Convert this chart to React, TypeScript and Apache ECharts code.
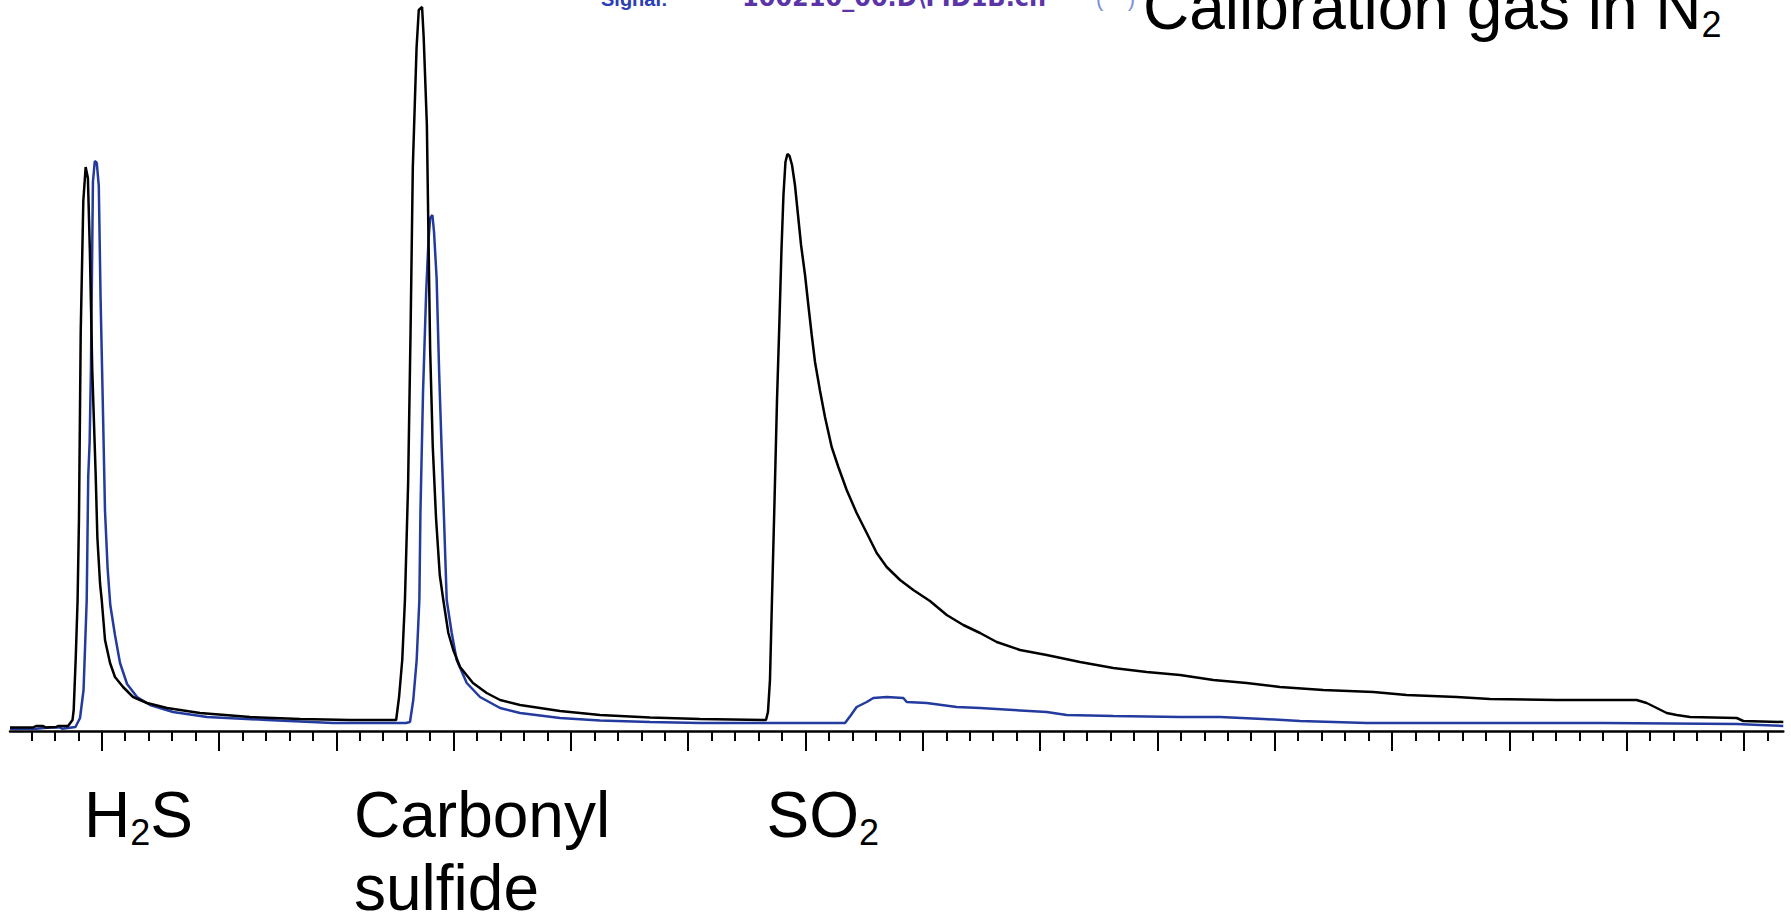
import React, { useEffect, useRef } from 'react';
import * as echarts from 'echarts';

// Retention time (min) and detector signal (a.u.)
const blackTime = [0.218, 0.414, 0.440, 0.500, 0.525, 0.610, 0.627, 0.713, 0.751, 0.761, 0.779, 0.794, 0.806, 0.821, 0.843, 0.863, 0.882, 0.899, 0.919, 0.948, 0.963, 0.986, 1.000, 1.028, 1.071, 1.113, 1.182, 1.267, 1.386, 1.557, 1.838, 2.264, 2.691, 3.117, 3.510, 3.535, 3.562, 3.585, 3.612, 3.633, 3.652, 3.684, 3.703, 3.731, 3.745, 3.772, 3.786, 3.800, 3.822, 3.850, 3.882, 3.912, 3.955, 3.997, 4.055, 4.165, 4.282, 4.396, 4.566, 4.907, 5.248, 5.674, 6.101, 6.663, 6.680, 6.697, 6.714, 6.736, 6.757, 6.778, 6.795, 6.812, 6.829, 6.846, 6.864, 6.885, 6.910, 6.936, 6.962, 6.996, 7.024, 7.053, 7.081, 7.124, 7.166, 7.223, 7.280, 7.351, 7.436, 7.522, 7.607, 7.692, 7.806, 7.919, 8.061, 8.204, 8.345, 8.488, 8.630, 8.829, 9.056, 9.340, 9.624, 9.909, 10.193, 10.477, 10.761, 11.045, 11.414, 11.841, 12.125, 12.552, 12.835, 13.404, 14.086, 14.171, 14.257, 14.342, 14.427, 14.541, 14.939, 14.995, 15.336];
const blackSignal = [3.5, 3.5, 5, 5, 3.5, 4, 5, 5, 11, 21, 75, 130, 212, 400, 530, 564, 553, 480, 362, 258, 193, 147, 131, 91, 68, 54, 44, 34, 28, 23, 18, 14, 12, 11, 11, 34, 71, 131, 247, 400, 563, 683, 721, 724, 693, 606, 491, 381, 285, 213, 156, 131, 98, 81, 64, 48, 38, 31, 26, 20, 16, 13.5, 12, 11, 19, 51, 131, 231, 331, 411, 481, 536, 569, 577, 575, 566, 546, 516, 486, 456, 426, 396, 369, 340, 314, 284, 264, 241, 218, 198, 178, 164, 151, 141, 130, 116, 106, 98, 89, 81, 76, 69, 63, 59, 56, 51, 48, 44, 41, 39, 36, 34, 32, 31, 31, 28, 23, 18, 16, 14, 13, 10, 9];

const blueTime = [0.218, 0.440, 0.559, 0.645, 0.662, 0.776, 0.815, 0.845, 0.872, 0.885, 0.897, 0.908, 0.925, 0.941, 0.958, 0.975, 0.990, 1.010, 1.028, 1.050, 1.073, 1.113, 1.156, 1.216, 1.301, 1.412, 1.608, 1.898, 2.409, 2.972, 3.594, 3.628, 3.656, 3.685, 3.708, 3.717, 3.739, 3.766, 3.786, 3.800, 3.819, 3.833, 3.855, 3.877, 3.897, 3.919, 3.941, 3.984, 4.026, 4.112, 4.225, 4.396, 4.566, 4.907, 5.248, 5.674, 6.101, 7.337, 7.388, 7.436, 7.522, 7.578, 7.692, 7.834, 7.863, 8.033, 8.289, 8.488, 8.771, 9.056, 9.227, 9.624, 10.193, 10.534, 10.903, 11.216, 11.784, 12.835, 13.801, 14.939, 15.137, 15.336];
const blueSignal = [2.3, 2.3, 3.5, 3.5, 2.3, 4, 13, 41, 131, 255, 289, 362, 549, 570, 568, 545, 434, 323, 220, 163, 126, 96, 68, 47, 34, 26, 19, 14, 11, 8, 8, 9, 31, 71, 131, 218, 338, 439, 491, 513, 516, 499, 453, 357, 285, 209, 131, 98, 71, 48, 34, 23, 18, 13, 10.5, 9, 8, 8, 16, 24, 29, 33, 34, 33, 29, 28, 24, 23, 21, 19, 16, 15, 14, 14, 12, 10, 8, 8, 8, 7, 6, 5];

// Axis ticks (minutes)
const majorTicks = [1, 2, 3, 4, 5, 6, 7, 8, 9, 10, 11, 12, 13, 14, 15];
const minorTicks: number[] = [];
for (let k = 2; k <= 76; k++) minorTicks.push(Number((k * 0.2).toFixed(1)));

const X_MIN = 0.218;
const X_MAX = 15.336;
const Y_MAX = 731;

const peakLabels = ['{m|H}{s|2}{m|S}', 'Carbonyl\nsulfide', '{m|SO}{s|2}'];
const titleText = '{m|Calibration gas in N}{s|2}';
const signalLabel = 'Signal:';
const fileLabel = '100210_00.D\\FID1B.ch';

export default function App() {
  const ref = useRef<HTMLDivElement>(null);
  useEffect(() => {
    const chart = echarts.init(ref.current as HTMLDivElement, null, { renderer: 'svg' });
    const font = '"Liberation Sans", Arial, sans-serif';
    const rich = {
      m: { fontSize: 64, lineHeight: 72, fontFamily: font, fill: '#000' },
      s: { fontSize: 36, lineHeight: 33, fontFamily: font, fill: '#000', verticalAlign: 'bottom' },
    };
    const tickLine = { color: '#000', width: 2 };
    chart.setOption({
      animation: false,
      backgroundColor: '#ffffff',
      grid: { left: 10, right: 7.7, top: 0, bottom: 184, containLabel: false, outerBoundsMode: 'none' },
      xAxis: [
        {
          type: 'value', min: X_MIN, max: X_MAX, position: 'bottom',
          axisLine: { show: true, onZero: false, lineStyle: { color: '#000', width: 2.5 } },
          axisTick: { show: true, customValues: minorTicks, length: 10, lineStyle: tickLine },
          axisLabel: { show: false }, splitLine: { show: false },
        },
        {
          type: 'value', min: X_MIN, max: X_MAX, position: 'bottom',
          axisLine: { show: false, onZero: false },
          axisTick: { show: true, customValues: majorTicks, length: 20, lineStyle: tickLine },
          axisLabel: { show: false }, splitLine: { show: false },
        },
      ],
      yAxis: { type: 'value', min: 0, max: Y_MAX, show: false },
      series: [
        {
          type: 'line', name: 'Sample', xAxisIndex: 0,
          data: blueTime.map((t, i) => [t, blueSignal[i]]),
          showSymbol: false, symbol: 'none',
          lineStyle: { color: '#233a9e', width: 2.5 }, itemStyle: { color: '#233a9e' },
          z: 2,
        },
        {
          type: 'line', name: 'Calibration gas in N2', xAxisIndex: 0,
          data: blackTime.map((t, i) => [t, blackSignal[i]]),
          showSymbol: false, symbol: 'none',
          lineStyle: { color: '#000000', width: 2.5 }, itemStyle: { color: '#000000' },
          z: 3,
        },
      ],
      graphic: [
        { type: 'text', x: 84, y: 778.8, style: { text: peakLabels[0], rich, align: 'left', verticalAlign: 'top' } },
        { type: 'text', x: 354, y: 778.3, style: { text: peakLabels[1], fontSize: 64, fontFamily: font, lineHeight: 73, fill: '#000', align: 'left', verticalAlign: 'top' } },
        { type: 'text', x: 766.5, y: 778.8, style: { text: peakLabels[2], rich, align: 'left', verticalAlign: 'top' } },
        { type: 'text', x: 1143, y: -29.2, style: { text: titleText, rich, align: 'left', verticalAlign: 'top' } },
        { type: 'text', x: 601, y: -1.5, style: { text: signalLabel, fontSize: 20, fontWeight: 'bold', fontFamily: font, fill: '#2a3fb8', align: 'left', verticalAlign: 'middle' } },
        { type: 'text', x: 742, y: -2.5, style: { text: fileLabel, fontSize: 24, fontWeight: 'bold', fontFamily: '"DejaVu Sans", sans-serif', fill: '#5b35a8', align: 'left', verticalAlign: 'middle' } },
        { type: 'text', x: 1096, y: -2, style: { text: '(    )', fontSize: 22, fontFamily: font, fill: '#7d8fd6', align: 'left', verticalAlign: 'middle' } },
      ],
    });
    return () => chart.dispose();
  }, []);
  return (
    <div
      ref={ref}
      style={{ position: 'absolute', left: 0, top: 0, width: 1791, height: 915, background: '#fff' }}
    />
  );
}
